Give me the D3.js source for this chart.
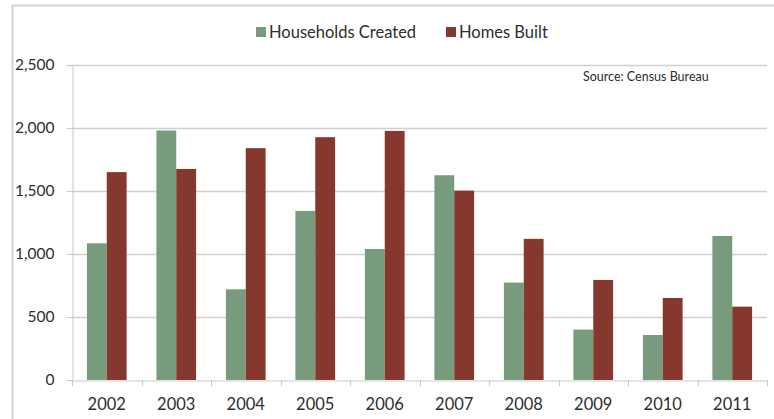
<!DOCTYPE html>
<html><head><meta charset="utf-8">
<script src="https://cdn.jsdelivr.net/npm/d3@7"></script>
<style>body{margin:0;background:#fff}svg{display:block}text{font-family:Lato,"Open Sans",sans-serif;fill:#2e2e2e}</style>
</head><body><div id="chart"></div>
<script>
const years = ["2002","2003","2004","2005","2006","2007","2008","2009","2010","2011"];
const householdsCreated = [1085, 1980, 720, 1342, 1040, 1625, 773, 400, 357, 1143];
const homesBuilt = [1650, 1675, 1840, 1927, 1977, 1503, 1120, 794, 651, 582];
const yTicks = [0, 500, 1000, 1500, 2000, 2500];
const seriesNames = ["Households Created", "Homes Built"];
const colors = ["#789b7e", "#86382f"];

const W = 774, H = 419;
const m = {left: 72, right: 7, top: 65, bottom: 39};
const svg = d3.select("#chart").append("svg").attr("width", W).attr("height", H);

svg.append("rect").attr("x", 12.5).attr("y", 5.5).attr("width", 800).attr("height", 500)
  .attr("fill", "none").attr("stroke", "#d3d3d3").attr("stroke-width", 2);

const x = d3.scaleBand().domain(years).range([m.left, W - m.right]);
const y = d3.scaleLinear().domain([0, 2500]).range([H - m.bottom, m.top]);
const inner = d3.scaleBand().domain(seriesNames).range([0, x.bandwidth()]).paddingOuter(0.75).paddingInner(0);

// gridlines
svg.append("g").selectAll("line").data(yTicks.filter(d => d > 0)).join("line")
  .attr("x1", m.left).attr("x2", W - m.right)
  .attr("y1", d => Math.round(y(d)) + 0.5).attr("y2", d => Math.round(y(d)) + 0.5)
  .attr("stroke", "#d0d0d0").attr("stroke-width", 1.3);

// y axis
const ya = svg.append("g").attr("transform", `translate(${m.left + 0.5},0)`)
  .call(d3.axisLeft(y).tickValues(yTicks).tickFormat(d3.format(",")).tickSize(6).tickPadding(12));
ya.select(".domain").attr("stroke", "#c8c8c8");
ya.selectAll(".tick line").attr("stroke", "#c8c8c8");
ya.selectAll("text").attr("font-size", 15.5).attr("fill", "#2e2e2e").style("font-family", "Lato, sans-serif");

// bars
const data = years.map((yr, i) => ({yr, vals: [householdsCreated[i], homesBuilt[i]]}));
const g = svg.append("g").selectAll("g").data(data).join("g")
  .attr("transform", d => `translate(${x(d.yr)},0)`);
g.selectAll("rect").data(d => d.vals.map((v, j) => ({v, s: seriesNames[j], j}))).join("rect")
  .attr("x", d => inner(d.s)).attr("width", inner.bandwidth())
  .attr("y", d => y(d.v)).attr("height", d => y(0) - y(d.v))
  .attr("fill", d => colors[d.j]);

// x axis
const xa = svg.append("g").attr("transform", `translate(0,${Math.round(y(0)) + 0.5})`)
  .call(d3.axisBottom(x).tickSize(0).tickPadding(18));
xa.select(".domain").attr("stroke", "#c8c8c8");
xa.selectAll("text").attr("font-size", 16.5).attr("fill", "#2e2e2e").style("font-family", "Lato, sans-serif");
svg.append("g").selectAll("line").data(years.concat(["end"])).join("line")
  .attr("x1", (d, i) => Math.round(m.left + i * x.step()) + 0.5)
  .attr("x2", (d, i) => Math.round(m.left + i * x.step()) + 0.5)
  .attr("y1", y(0)).attr("y2", y(0) + 6).attr("stroke", "#c8c8c8");

// legend
const leg = svg.append("g").attr("transform", "translate(256,32)");
const items = [{n: seriesNames[0], x: 0}, {n: seriesNames[1], x: 190}];
items.forEach((it, i) => {
  leg.append("rect").attr("x", it.x).attr("y", -5).attr("width", 10).attr("height", 10).attr("fill", colors[i]);
  leg.append("text").attr("x", it.x + 13).attr("y", 0).attr("dy", "0.35em").attr("font-size", 16.5).text(it.n);
});

svg.append("text").attr("x", 583).attr("y", 77).attr("dy", "0.35em").attr("font-size", 12.5).text("Source: Census Bureau");
</script></body></html>
